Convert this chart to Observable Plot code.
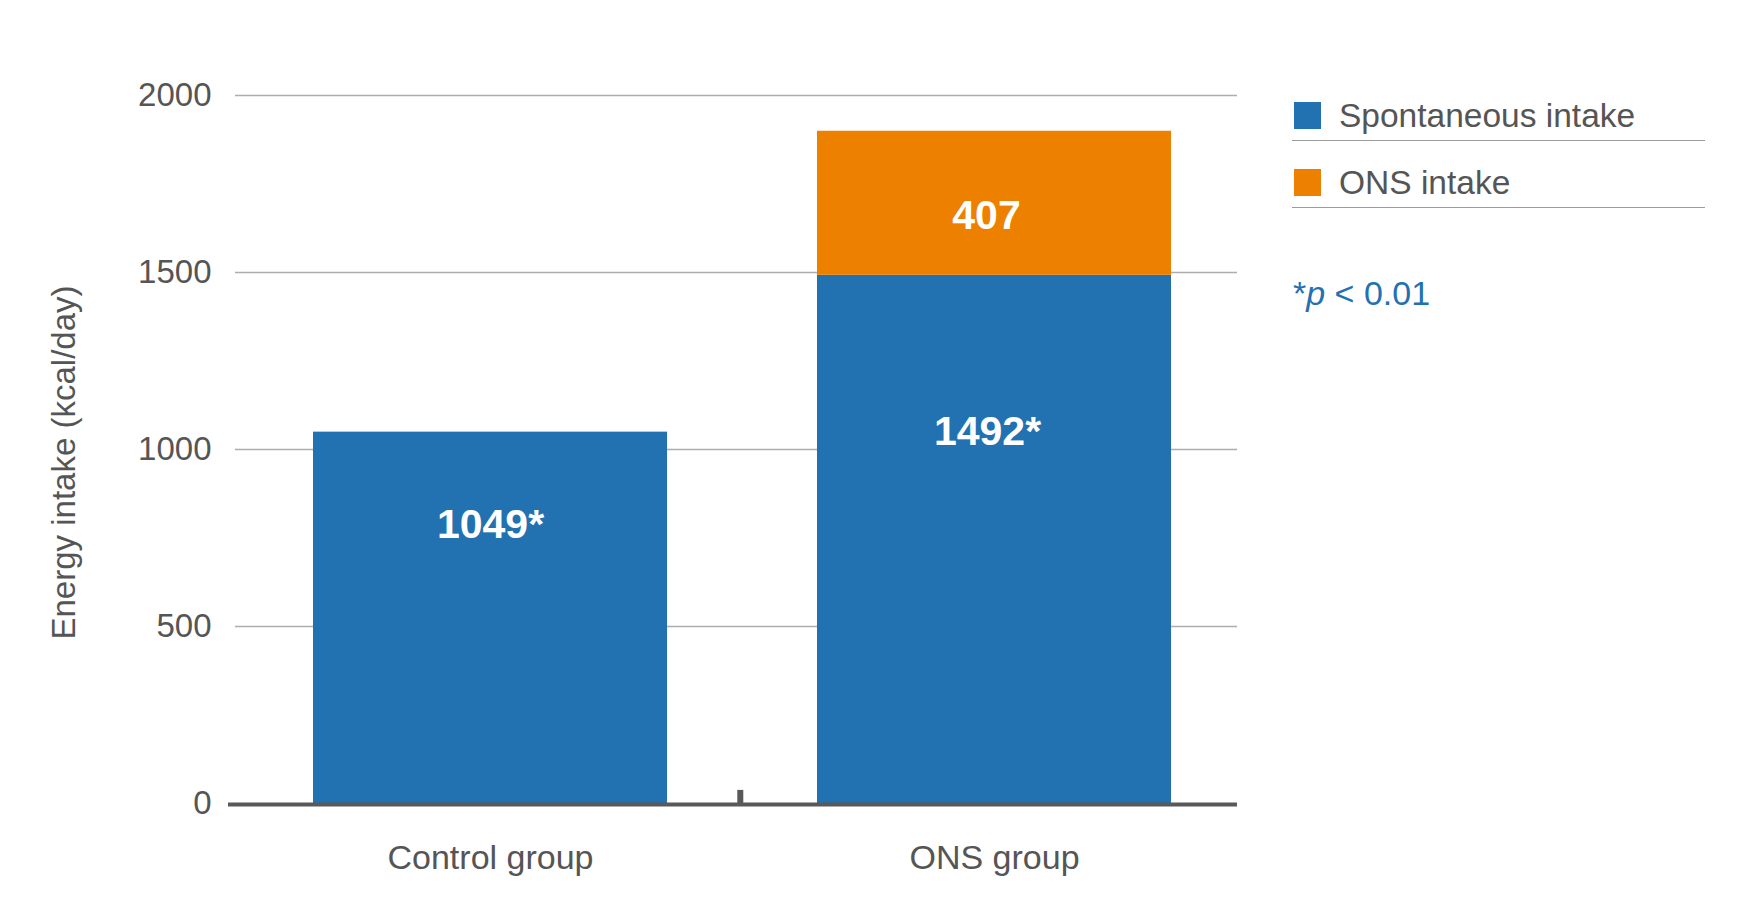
<!DOCTYPE html>
<html>
<head>
<meta charset="utf-8">
<script src="https://cdn.jsdelivr.net/npm/d3@7"></script>
<script src="https://cdn.jsdelivr.net/npm/@observablehq/plot@0.6"></script>
<style>
  html, body { margin: 0; padding: 0; background: #fff; }
  #wrap { position: relative; width: 1757px; height: 906px; font-family: "Liberation Sans", Arial, Helvetica, sans-serif; }
  #chart { position: absolute; left: 0; top: 0; }
  .leg-sw { position: absolute; width: 27px; height: 27px; }
  .leg-tx { position: absolute; font-size: 33.5px; line-height: 32px; color: #555; white-space: nowrap; }
  .leg-ln { position: absolute; height: 0; border-top: 1.5px solid #9d9d9d; }
  #note { position: absolute; font-size: 34px; line-height: 34px; color: #2271b1; white-space: nowrap; }
</style>
</head>
<body>
<div id="wrap">
  <div id="chart"></div>
</div>
<script>
// ---- data ----
const groups = ["Control group", "ONS group"];
const seriesNames = ["Spontaneous intake", "ONS intake"];
const spontaneous = [1049, 1492];
const onsIntake = [0, 407];
const yTicks = [0, 500, 1000, 1500, 2000];
const seriesColors = ["#2271b1", "#ee8000"];
const yTitle = "Energy intake (kcal/day)";
const note = "p < 0.01";

// table for the library
const rows = [];
groups.forEach((g, i) => {
  rows.push({group: g, series: seriesNames[0], value: spontaneous[i]});
  if (onsIntake[i] > 0) rows.push({group: g, series: seriesNames[1], value: onsIntake[i]});
});

const font = "'Liberation Sans', Arial, Helvetica, sans-serif";
const xRange = [313, 1172];
const padInner = 0.297;
const step = (xRange[1] - xRange[0]) / (groups.length - padInner);

const chart = Plot.plot({
  width: 1757,
  height: 906,
  marginLeft: 235,
  marginRight: 520,
  marginTop: 95,
  marginBottom: 103,
  style: {fontFamily: font, background: "transparent"},
  x: {domain: groups, range: xRange, paddingInner: padInner, paddingOuter: 0},
  y: {domain: [0, 2000]},
  color: {domain: seriesNames, range: seriesColors},
  marks: [
    Plot.gridY(yTicks.filter(t => t > 0), {stroke: "#adadad", strokeOpacity: 1, strokeWidth: 1.5}),
    Plot.axisY({ticks: yTicks, tickFormat: d => String(d), tickSize: 0, tickPadding: 24, fontSize: 33, fill: "#555", label: null}),
    Plot.axisX({tickSize: 0, tickPadding: 41, fontSize: 34, fill: "#555", label: null}),
    Plot.barY(rows, {x: "group", y: "value", fill: "series"}),
    Plot.ruleY([0], {stroke: "#595959", strokeWidth: 4, insetLeft: -7, dy: 1}),
    Plot.ruleX([groups[1]], {x: d => d, y1: 0, y2: 37, dx: -step / 2 - 2, stroke: "#595959", strokeWidth: 6}),
    // value labels
    Plot.text([0], {x: i => groups[i], y: i => spontaneous[i], text: i => spontaneous[i] + "*",
      dy: 93, fill: "white", fontSize: 41, fontWeight: "bold"}),
    Plot.text([1], {x: i => groups[i], y: i => spontaneous[i], text: i => spontaneous[i] + "*",
      dy: 157, dx: -7, fill: "white", fontSize: 41, fontWeight: "bold"}),
    Plot.text([1], {x: i => groups[i], y: i => spontaneous[i] + onsIntake[i] / 2, text: i => String(onsIntake[i]),
      dy: 13, dx: -8, fill: "white", fontSize: 41, fontWeight: "bold"}),
    // y title
    Plot.text([yTitle], {frameAnchor: "left", textAnchor: "middle", dx: -171, dy: 13, rotate: -90, fontSize: 33, fill: "#555"})
  ]
});
document.getElementById("chart").appendChild(chart);

// ---- legend (HTML) ----
const wrap = document.getElementById("wrap");
const legTops = [100, 167];
seriesNames.forEach((name, i) => {
  const sw = document.createElement("div");
  sw.className = "leg-sw";
  sw.style.left = "1294px";
  sw.style.top = (legTops[i] + 2) + "px";
  sw.style.background = seriesColors[i];
  wrap.appendChild(sw);
  const tx = document.createElement("div");
  tx.className = "leg-tx";
  tx.style.left = "1339px";
  tx.style.top = legTops[i] + "px";
  tx.textContent = name;
  wrap.appendChild(tx);
  const ln = document.createElement("div");
  ln.className = "leg-ln";
  ln.style.left = "1292px";
  ln.style.width = "413px";
  ln.style.top = (legTops[i] + 40) + "px";
  wrap.appendChild(ln);
});
const nt = document.createElement("div");
nt.id = "note";
nt.style.left = "1293px";
nt.style.top = "276px";
nt.innerHTML = "*<i>p</i> " + note.replace(/^p /, "").replace("<", "&lt;");
wrap.appendChild(nt);
</script>
</body>
</html>
